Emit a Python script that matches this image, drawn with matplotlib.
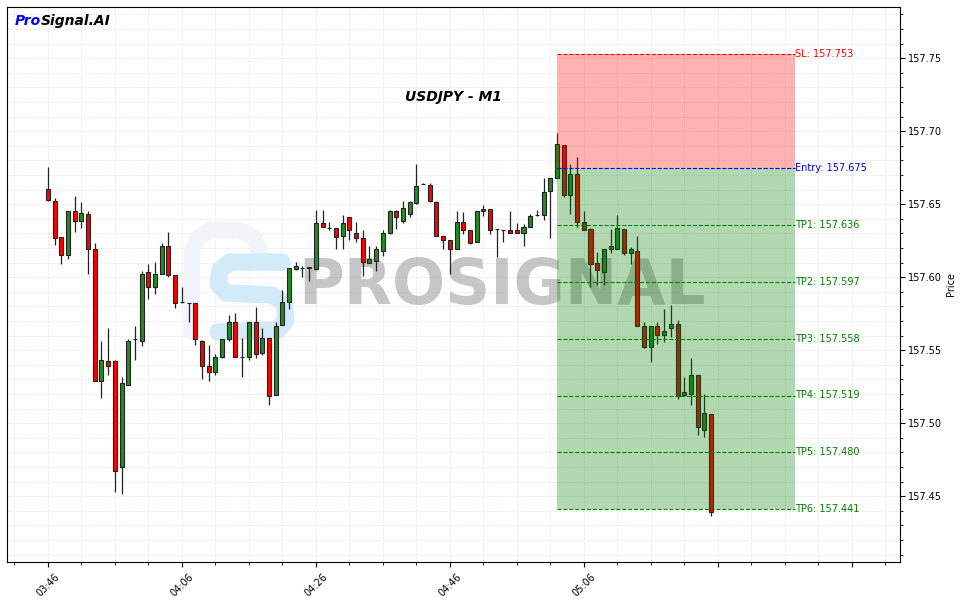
#USDJPY M1 signal chart with candles, entry/SL/TP zone and watermark

#imports
import matplotlib
matplotlib.use('Agg')
import matplotlib.pyplot as plt
from matplotlib.patches import Rectangle
from matplotlib.ticker import MultipleLocator, FuncFormatter
import pandas as pd


#candle data (one minute bars from 03:46)
times = pd.date_range('2024-06-25 03:46', periods=100, freq='1min')
opens = [157.6607, 157.6523, 157.6276, 157.6155, 157.6450, 157.6388, 157.6436, 157.6190, 157.5288, 157.5429,
         157.5429, 157.4703, 157.5265, 157.5580, 157.5566, 157.6037, 157.5936, 157.6025, 157.6217, 157.6018,
         157.5827, 157.5820, 157.5820, 157.5566, 157.5395, 157.5354, 157.5457, 157.5580, 157.5696, 157.5457,
         157.5457, 157.5690, 157.5484, 157.5587, 157.5196, 157.5676, 157.5827, 157.6059, 157.6066, 157.6068,
         157.6059, 157.6368, 157.6340, 157.6340, 157.6283, 157.6415, 157.6306, 157.6265, 157.6100, 157.6114,
         157.6176, 157.6306, 157.6450, 157.6388, 157.6436, 157.6511, 157.6635, 157.6628, 157.6518, 157.6285,
         157.6258, 157.6190, 157.6375, 157.6320, 157.6238, 157.6450, 157.6470, 157.6327, 157.6320, 157.6320,
         157.6320, 157.6306, 157.6347, 157.6429, 157.6429, 157.6587, 157.6676, 157.6904, 157.6560, 157.6710,
         157.6375, 157.6327, 157.6098, 157.6039, 157.6196, 157.6196, 157.6327, 157.6169, 157.6176, 157.5669,
         157.5525, 157.5669, 157.5607, 157.5653, 157.5678, 157.5194, 157.5201, 157.5327, 157.4955, 157.5060]
highs = [157.6756, 157.6539, 157.6276, 157.6456, 157.6559, 157.6516, 157.6454, 157.6235, 157.5564, 157.5655,
         157.5436, 157.5317, 157.5578, 157.5667, 157.6041, 157.6087, 157.6101, 157.6231, 157.6308, 157.6018,
         157.5936, 157.5822, 157.5825, 157.5573, 157.5539, 157.5477, 157.5580, 157.5738, 157.5758, 157.5587,
         157.5696, 157.5799, 157.5649, 157.5587, 157.5690, 157.5909, 157.6062, 157.6101, 157.6078, 157.6068,
         157.6457, 157.6457, 157.6377, 157.6340, 157.6429, 157.6415, 157.6375, 157.6320, 157.6217, 157.6217,
         157.6320, 157.6457, 157.6457, 157.6525, 157.6525, 157.6772, 157.6648, 157.6642, 157.6525, 157.6285,
         157.6258, 157.6450, 157.6443, 157.6320, 157.6450, 157.6491, 157.6470, 157.6333, 157.6322, 157.6450,
         157.6368, 157.6361, 157.6436, 157.6457, 157.6676, 157.6676, 157.6989, 157.6904, 157.6772, 157.6824,
         157.6450, 157.6340, 157.6174, 157.6196, 157.6327, 157.6429, 157.6327, 157.6210, 157.6279, 157.5696,
         157.5669, 157.5696, 157.5779, 157.5808, 157.5710, 157.5320, 157.5450, 157.5327, 157.5197, 157.5060]
lows = [157.6523, 157.6219, 157.6089, 157.6128, 157.6308, 157.6340, 157.6025, 157.5286, 157.5176, 157.5327,
        157.4530, 157.4518, 157.5265, 157.5436, 157.5528, 157.5854, 157.5888, 157.6025, 157.6002, 157.5786,
        157.5820, 157.5690, 157.5539, 157.5304, 157.5286, 157.5333, 157.5450, 157.5566, 157.5457, 157.5320,
        157.5436, 157.5450, 157.5464, 157.5128, 157.5196, 157.5676, 157.5779, 157.6046, 157.5998, 157.5977,
        157.6046, 157.6347, 157.6322, 157.6196, 157.6190, 157.6258, 157.6244, 157.6007, 157.6100, 157.6041,
        157.6148, 157.6299, 157.6327, 157.6368, 157.6415, 157.6498, 157.6635, 157.6518, 157.6285, 157.6196,
        157.6025, 157.6190, 157.6299, 157.6224, 157.6238, 157.6416, 157.6299, 157.6135, 157.6238, 157.6306,
        157.6306, 157.6217, 157.6347, 157.6416, 157.6395, 157.6265, 157.6676, 157.6550, 157.6436, 157.6345,
        157.6320, 157.5934, 157.5950, 157.5950, 157.6169, 157.6190, 157.6155, 157.6087, 157.5669, 157.5518,
        157.5416, 157.5546, 157.5559, 157.5591, 157.5164, 157.5194, 157.5128, 157.4922, 157.4907, 157.4368]
closes = [157.6527, 157.6265, 157.6149, 157.6454, 157.6388, 157.6438, 157.6190, 157.5288, 157.5436, 157.5391,
          157.4676, 157.5279, 157.5566, 157.5580, 157.6025, 157.5936, 157.6025, 157.6217, 157.6018, 157.5820,
          157.5827, 157.5820, 157.5580, 157.5395, 157.5354, 157.5457, 157.5580, 157.5696, 157.5457, 157.5455,
          157.5690, 157.5477, 157.5587, 157.5190, 157.5669, 157.5827, 157.6062, 157.6080, 157.6066, 157.6066,
          157.6368, 157.6347, 157.6340, 157.6278, 157.6368, 157.6320, 157.6265, 157.6107, 157.6128, 157.6190,
          157.6306, 157.6450, 157.6415, 157.6477, 157.6518, 157.6621, 157.6635, 157.6525, 157.6285, 157.6258,
          157.6190, 157.6375, 157.6320, 157.6231, 157.6450, 157.6470, 157.6320, 157.6327, 157.6320, 157.6306,
          157.6306, 157.6347, 157.6416, 157.6429, 157.6580, 157.6676, 157.6909, 157.6560, 157.6710, 157.6375,
          157.6320, 157.6087, 157.6046, 157.6196, 157.6217, 157.6340, 157.6169, 157.6190, 157.5669, 157.5525,
          157.5669, 157.5607, 157.5635, 157.5678, 157.5187, 157.5217, 157.5333, 157.4975, 157.5067, 157.4395]

#signal levels
entry = 157.675
sl = 157.753
tps = [157.636, 157.597, 157.558, 157.519, 157.480, 157.441]
signal_start = 76      #candle index where the zone begins
signal_end = 111.6     #zone right edge in candle units


#figure
fig = plt.figure(figsize=(9.63, 6.03), dpi=100)
ax = fig.add_axes([7/963, 41/603, 893/963, 555/603])


#candles
for i in range(len(opens)):
    o, h, l, c = opens[i], highs[i], lows[i], closes[i]
    color = 'forestgreen' if c >= o else 'red'
    ax.vlines(i, l, h, color='#222222', linewidth=0.9, zorder=2)
    ax.add_patch(Rectangle((i - 0.3, min(o, c)), 0.6, abs(c - o),
                           facecolor=color, edgecolor='#222222', linewidth=0.8, zorder=3))


#signal zones
ax.add_patch(Rectangle((signal_start, entry), signal_end - signal_start, sl - entry,
                       facecolor='red', alpha=0.3, linewidth=0, zorder=4))
ax.add_patch(Rectangle((signal_start, tps[-1]), signal_end - signal_start, entry - tps[-1],
                       facecolor='green', alpha=0.3, linewidth=0, zorder=4))

ax.hlines(sl, signal_start, signal_end, colors='red', linestyles='--', linewidth=0.8, zorder=5)
ax.text(signal_end, sl, 'SL: %.3f' % sl, color='red', fontsize=7, va='center', ha='left', zorder=6)
ax.hlines(entry, signal_start, signal_end, colors='blue', linestyles='--', linewidth=0.8, zorder=5)
ax.text(signal_end, entry, 'Entry: %.3f' % entry, color='blue', fontsize=7, va='center', ha='left', zorder=6)
for n, tp in enumerate(tps):
    ax.hlines(tp, signal_start, signal_end, colors='green', linestyles='--', linewidth=0.8, zorder=5)
    ax.text(signal_end, tp, 'TP%d: %.3f' % (n + 1, tp), color='green', fontsize=7,
            va='center', ha='left', zorder=6)


#watermark (logo + name)
def px(x, y):
    return ((x - 7) / 893, (562 - y) / 555)

p_pts = [px(*p) for p in [(192, 332), (192, 252), (198, 238), (210, 230), (240, 230), (254, 238), (260, 252), (260, 262)]]
ax.plot([p[0] for p in p_pts], [p[1] for p in p_pts], transform=ax.transAxes, color='#f1f4f8',
        linewidth=12, solid_capstyle='round', solid_joinstyle='round', zorder=1)
s_pts = [px(*p) for p in [(282, 262), (230, 262), (220, 270), (218, 284), (226, 293), (272, 295),
                          (284, 303), (286, 320), (278, 330), (218, 332)]]
ax.plot([p[0] for p in s_pts], [p[1] for p in s_pts], transform=ax.transAxes, color='#d3eafa',
        linewidth=12.5, solid_capstyle='round', solid_joinstyle='round', zorder=1)
ax.text(0.554, 0.495, 'PROSIGNAL', transform=ax.transAxes, fontsize=45, fontweight='bold',
        color='#a0a0a0', alpha=0.6, ha='center', va='center', zorder=1)


#titles
ax.text(0.5, 0.838, 'USDJPY - M1', transform=ax.transAxes, fontsize=10, fontweight='bold',
        fontstyle='italic', ha='center', va='center', zorder=6)
t1 = ax.text(0.009, 0.988, 'Pro', transform=ax.transAxes, fontsize=10, fontweight='bold',
             fontstyle='italic', color='blue', ha='left', va='top', zorder=6)
ax.annotate('Signal.AI', xy=(1, 0), xycoords=t1, fontsize=10, fontweight='bold',
            fontstyle='italic', color='black', ha='left', va='bottom', zorder=6)


#axes
ax.set_xlim(-6.1, 127.2)
ax.set_ylim(157.405, 157.785)
ax.xaxis.set_major_locator(MultipleLocator(20))
ax.xaxis.set_minor_locator(MultipleLocator(5))
ax.xaxis.set_major_formatter(FuncFormatter(
    lambda v, pos: times[int(round(v))].strftime('%H:%M') if 0 <= int(round(v)) < len(times) else ''))
ax.yaxis.set_major_locator(MultipleLocator(0.05))
ax.yaxis.set_minor_locator(MultipleLocator(0.01))
ax.yaxis.set_major_formatter(FuncFormatter(lambda v, pos: '%.2f' % v))
ax.yaxis.tick_right()
ax.yaxis.set_label_position('right')
ax.set_ylabel('Price', fontsize=7, labelpad=3)
ax.tick_params(axis='both', which='major', labelsize=7)
ax.tick_params(axis='y', which='major', pad=2)
plt.setp(ax.get_xticklabels(), rotation=45)
ax.grid(True, which='both', linestyle='--', color='#e6e6e6', linewidth=0.5)
ax.set_axisbelow(True)

fig.savefig('out.png', dpi=100)
